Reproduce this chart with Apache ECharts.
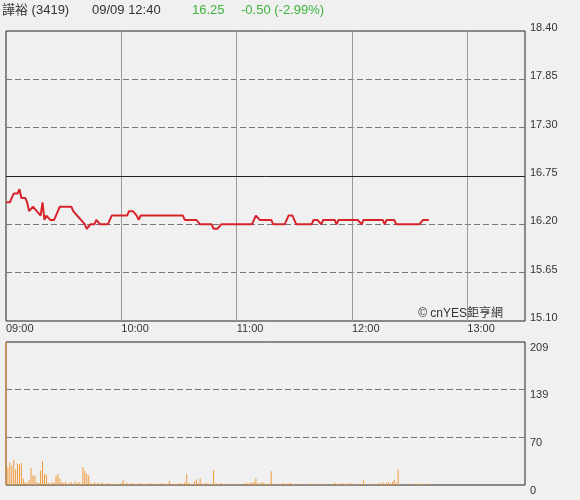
<!DOCTYPE html>
<html>
<head>
<meta charset="utf-8">
<script src="https://cdn.jsdelivr.net/npm/echarts@6/dist/echarts.min.js"></script>
<style>
html, body { margin: 0; padding: 0; background: #f0f0f0; }
#myChart { width: 580px; height: 500px; }
</style>
</head>
<body>
<div id="myChart"></div>
<script>
// 09:00 起每分鐘一筆
const timeLabels = ['09:00', '10:00', '11:00', '12:00', '13:00']
const prevClose = 16.75
const priceTicks = [15.10, 18.40, 0.55]
const volTicks = [0, 209]

const price = [
	16.45, 16.45, 16.45, 16.50, 16.55, 16.55, 16.55, 16.60, 16.50, 16.50,
	16.50, 16.45, 16.35, 16.35, 16.40, 16.40, 16.35, 16.35, 16.30, 16.45,
	16.25, 16.30, 16.30, 16.25, 16.25, 16.25, 16.30, 16.35, 16.40, 16.40,
	16.40, 16.40, 16.40, 16.40, 16.40, 16.35, 16.35, 16.30, 16.30, 16.25,
	16.25, 16.20, 16.15, 16.15, 16.20, 16.20, 16.20, 16.25, 16.25, 16.20,
	16.20, 16.20, 16.20, 16.20, 16.25, 16.30, 16.30, 16.30, 16.30, 16.30,
	16.30, 16.30, 16.30, 16.30, 16.35, 16.35, 16.35, 16.35, 16.30, 16.25,
	16.30, 16.30, 16.30, 16.30, 16.30, 16.30, 16.30, 16.30, 16.30, 16.30,
	16.30, 16.30, 16.30, 16.30, 16.30, 16.30, 16.30, 16.30, 16.30, 16.30,
	16.30, 16.30, 16.30, 16.25, 16.25, 16.25, 16.25, 16.25, 16.25, 16.25,
	16.25, 16.20, 16.20, 16.20, 16.20, 16.20, 16.20, 16.20, 16.15, 16.15,
	16.15, 16.15, 16.20, 16.20, 16.20, 16.20, 16.20, 16.20, 16.20, 16.20,
	16.20, 16.20, 16.20, 16.20, 16.20, 16.20, 16.20, 16.20, 16.20, 16.25,
	16.30, 16.30, 16.25, 16.25, 16.25, 16.25, 16.25, 16.25, 16.25, 16.20,
	16.20, 16.20, 16.20, 16.20, 16.20, 16.20, 16.25, 16.30, 16.30, 16.30,
	16.30, 16.20, 16.20, 16.20, 16.20, 16.20, 16.20, 16.20, 16.20, 16.20,
	16.25, 16.25, 16.25, 16.25, 16.20, 16.25, 16.25, 16.25, 16.25, 16.25,
	16.25, 16.25, 16.20, 16.25, 16.25, 16.25, 16.25, 16.25, 16.25, 16.25,
	16.25, 16.25, 16.25, 16.25, 16.25, 16.20, 16.25, 16.25, 16.25, 16.25,
	16.25, 16.25, 16.25, 16.25, 16.25, 16.25, 16.25, 16.20, 16.25, 16.25,
	16.25, 16.25, 16.25, 16.20, 16.20, 16.20, 16.20, 16.20, 16.20, 16.20,
	16.20, 16.20, 16.20, 16.20, 16.20, 16.20, 16.20, 16.25, 16.25, 16.25,
	16.25
]

const volume = [
	209, 26, 33, 28, 37, 23, 31, 30, 32, 9,
	4, 3, 7, 25, 14, 14, 4, 3, 21, 35,
	16, 15, 3, 2, 4, 3, 14, 16, 10, 4,
	3, 5, 2, 3, 4, 2, 5, 3, 4, 2,
	26, 21, 16, 14, 3, 2, 4, 2, 3, 1,
	4, 2, 1, 3, 2, 1, 2, 1, 2, 1,
	3, 7, 2, 3, 1, 2, 3, 1, 2, 1,
	3, 2, 1, 2, 1, 3, 2, 1, 2, 2,
	1, 3, 2, 1, 2, 6, 2, 1, 2, 1,
	3, 2, 1, 4, 16, 3, 2, 1, 5, 8,
	3, 10, 2, 1, 3, 2, 1, 2, 22, 2,
	1, 2, 3, 1, 0, 1, 2, 1, 0, 1,
	2, 1, 0, 1, 2, 3, 2, 4, 3, 5,
	10, 3, 2, 4, 3, 2, 1, 2, 20, 2,
	1, 0, 2, 1, 3, 2, 1, 2, 3, 2,
	1, 2, 0, 1, 0, 1, 0, 1, 2, 1,
	2, 1, 0, 1, 2, 1, 0, 1, 0, 1,
	2, 3, 2, 1, 2, 3, 2, 1, 2, 3,
	2, 1, 0, 1, 2, 1, 7, 1, 0, 1,
	0, 1, 2, 1, 3, 2, 4, 1, 3, 4,
	2, 5, 8, 3, 23, 1, 0, 1, 0, 0,
	1, 0, 0, 2, 1, 2, 1, 2, 0, 1,
	2
]

const myChart = echarts.init(document.getElementById('myChart'))

const fontFamily = '"Liberation Sans", Arial, "Noto Sans CJK TC", sans-serif'
const green = '#3db43d'
const dash = { color: '#777', type: [6, 3], width: 1 }

let option = {
	animation: false,
	backgroundColor: '#f0f0f0',
	textStyle: { fontFamily: fontFamily },
	graphic: [
		{ type: 'text', left: 2, top: 4, style: { text: '譁裕 (3419)', fill: '#333', font: '13px ' + fontFamily } },
		{ type: 'text', left: 92, top: 4, style: { text: '09/09 12:40', fill: '#333', font: '13px ' + fontFamily } },
		{ type: 'text', left: 192, top: 4, style: { text: '16.25', fill: green, font: '13px ' + fontFamily } },
		{ type: 'text', left: 241, top: 4, style: { text: '-0.50 (-2.99%)', fill: green, font: '13px ' + fontFamily } },
		{ type: 'text', right: 77, top: 308, z: 10, style: { text: '© cnYES鉅亨網', fill: '#333', font: '12px ' + fontFamily } }
	],
	grid: [
		{ left: 6, top: 31, width: 519, height: 290, show: true, borderColor: '#222', borderWidth: 1 },
		{ left: 6, top: 342, width: 519, height: 143, show: true, borderColor: '#222', borderWidth: 1 }
	],
	xAxis: [{
		type: 'value',
		gridIndex: 0,
		min: 0,
		max: 270,
		interval: 60,
		axisLine: { show: false },
		axisTick: { show: false },
		splitLine: { show: true, showMinLine: false, showMaxLine: false, lineStyle: { color: '#999', width: 1 } },
		axisLabel: {
			align: 'left',
			margin: 2,
			color: '#333',
			fontSize: 11,
			showMaxLabel: false,
			formatter: function (v) {
				return v % 60 === 0 ? timeLabels[v / 60] : ''
			}
		}
	}, {
		type: 'value',
		gridIndex: 1,
		min: 0,
		max: 270,
		show: false
	}],
	yAxis: [{
		type: 'value',
		gridIndex: 0,
		position: 'right',
		min: priceTicks[0],
		max: priceTicks[1],
		interval: priceTicks[2],
		axisLine: { show: false },
		axisTick: { show: false },
		splitLine: { show: true, showMinLine: false, showMaxLine: false, lineStyle: dash },
		axisLabel: {
			color: '#333',
			fontSize: 11,
			margin: 5,
			verticalAlign: 'bottom',
			lineHeight: 6,
			formatter: function (v) { return v.toFixed(2) }
		}
	}, {
		type: 'value',
		gridIndex: 1,
		position: 'right',
		min: volTicks[0],
		max: volTicks[1],
		interval: (volTicks[1] - volTicks[0]) / 3,
		axisLine: { show: false },
		axisTick: { show: false },
		splitLine: { show: true, showMinLine: false, showMaxLine: false, lineStyle: dash },
		axisLabel: {
			color: '#333',
			fontSize: 11,
			margin: 5,
			verticalAlign: 'top',
			formatter: function (v) { return Math.round(v) }
		}
	}],
	series: [{
		type: 'line',
		xAxisIndex: 0,
		yAxisIndex: 0,
		data: price.map((p, i) => [i, p]),
		showSymbol: false,
		lineStyle: { color: '#d6242a', width: 2 },
		markLine: {
			symbol: 'none',
			silent: true,
			label: { show: false },
			lineStyle: { color: '#222', type: 'solid', width: 1 },
			data: [{ yAxis: prevClose }]
		}
	}, {
		type: 'bar',
		xAxisIndex: 1,
		yAxisIndex: 1,
		data: volume.map((v, i) => [i, v]),
		barWidth: 1,
		itemStyle: { color: '#f39a3a' }
	}]
}
myChart.setOption(option)
</script>
</body>
</html>
